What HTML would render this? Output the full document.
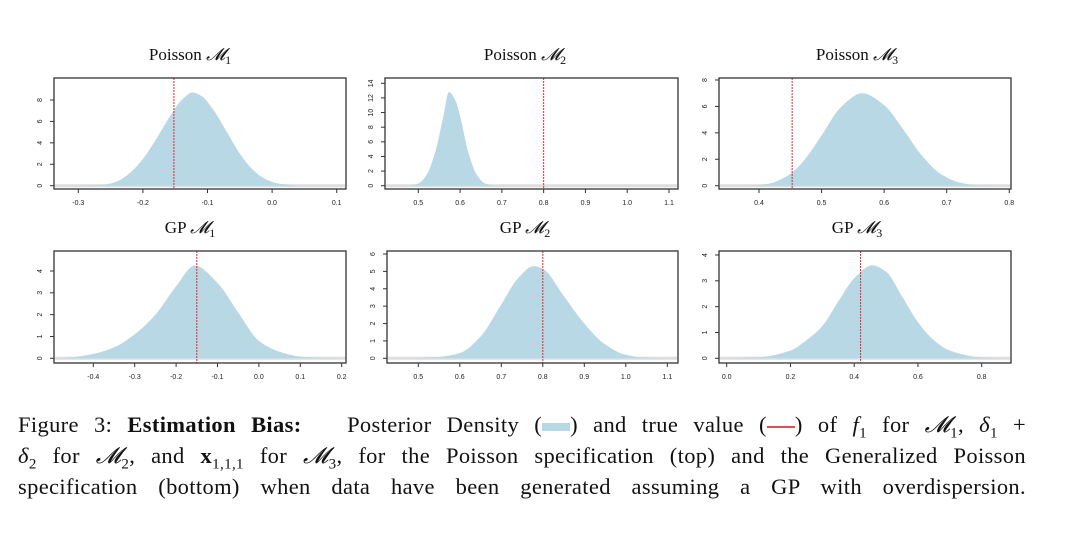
<!DOCTYPE html>
<html><head><meta charset="utf-8"><style>
html,body{margin:0;padding:0;background:#fff;width:1080px;height:536px;overflow:hidden}
#chart{position:absolute;left:0;top:0}
.cap{position:absolute;left:18px;width:1008px;font-family:"Liberation Serif","DejaVu Serif",serif;font-size:22.5px;letter-spacing:0.35px;color:#111;white-space:nowrap;line-height:26px}
.j{text-align:justify;text-align-last:justify;white-space:normal}
</style></head><body>
<svg id="chart" width="1080" height="400" xmlns="http://www.w3.org/2000/svg"></svg>
<div class="cap j" style="top:412px">Figure 3: <b>Estimation Bias:</b>&nbsp;&nbsp; Posterior Density (<span style="display:inline-block;width:28px;height:8px;background:#b7d8e4;vertical-align:middle"></span>) and true value (<span style="display:inline-block;width:28px;height:1.5px;background:#e05050;vertical-align:middle"></span>) of <i>f</i><sub style="font-size:15px">1</sub> for <i>𝓜</i><sub style="font-size:15px">1</sub>, <i>δ</i><sub style="font-size:15px">1</sub> +</div>
<div class="cap j" style="top:443px"><i>δ</i><sub style="font-size:15px">2</sub> for <i>𝓜</i><sub style="font-size:15px">2</sub>, and <b>x</b><sub style="font-size:15px">1,1,1</sub> for <i>𝓜</i><sub style="font-size:15px">3</sub>, for the Poisson specification (top) and the Generalized Poisson</div>
<div class="cap j" style="top:474px">specification (bottom) when data have been generated assuming a GP with overdispersion.</div>
<script>
// ---- data ----
const titles = ["Poisson", "Poisson", "Poisson", "GP", "GP", "GP"];
const modelIdx = [1, 2, 3, 1, 2, 3];
const trueValues = [-0.152, 0.80, 0.453, -0.150, 0.80, 0.42];
const densX1 = [-0.30,-0.26,-0.24,-0.22,-0.20,-0.18,-0.16,-0.14,-0.123,-0.11,-0.09,-0.07,-0.05,-0.03,-0.01,0.01,0.04];
const densY1 = [0,0.1,0.4,1.2,2.5,4.3,6.3,8.0,8.7,8.4,7.0,5.0,3.0,1.5,0.6,0.2,0];
const densX2 = [0.48,0.50,0.52,0.54,0.56,0.573,0.59,0.60,0.62,0.64,0.66,0.68];
const densY2 = [0,0.3,1.5,4.5,9.5,12.8,11.5,9.5,4.5,1.5,0.3,0];
const densX3 = [0.38,0.40,0.42,0.44,0.453,0.47,0.50,0.53,0.565,0.60,0.63,0.66,0.69,0.72,0.75,0.78];
const densY3 = [0,0.05,0.2,0.6,1.0,1.8,3.8,5.9,7.0,6.1,4.3,2.3,0.9,0.25,0.03,0];
const densX4 = [-0.48,-0.45,-0.40,-0.35,-0.30,-0.25,-0.20,-0.155,-0.10,-0.05,0.0,0.05,0.10,0.15,0.20];
const densY4 = [0,0.05,0.2,0.5,1.1,2.0,3.3,4.25,3.45,2.1,0.8,0.3,0.08,0.02,0];
const densX5 = [0.50,0.55,0.60,0.65,0.70,0.74,0.778,0.80,0.85,0.90,0.95,1.00,1.05,1.10];
const densY5 = [0.01,0.08,0.3,1.25,3.1,4.6,5.3,5.15,3.6,2.0,0.8,0.2,0.03,0];
const densX6 = [0.0,0.1,0.2,0.25,0.3,0.35,0.40,0.457,0.5,0.55,0.6,0.65,0.7,0.8,0.85];
const densY6 = [0,0.04,0.3,0.7,1.25,2.2,3.1,3.6,3.35,2.4,1.4,0.7,0.3,0.03,0];
const xTicks1 = [-0.3,-0.2,-0.1,0.0,0.1];
const xTicks2 = [0.5,0.6,0.7,0.8,0.9,1.0,1.1];
const xTicks3 = [0.4,0.5,0.6,0.7,0.8];
const xTicks4 = [-0.4,-0.3,-0.2,-0.1,0.0,0.1,0.2];
const xTicks5 = [0.5,0.6,0.7,0.8,0.9,1.0,1.1];
const xTicks6 = [0.0,0.2,0.4,0.6,0.8];
const yTicks1 = [0,2,4,6,8];
const yTicks2 = [0,2,4,6,8,10,12,14];
const yTicks3 = [0,2,4,6,8];
const yTicks4 = [0,1,2,3,4];
const yTicks5 = [0,1,2,3,4,5,6];
const yTicks6 = [0,1,2,3,4];

// ---- layout (pixel geometry) ----
const panels = [
 {dx:densX1,dy:densY1,xt:xTicks1,yt:yTicks1,box:[54,346,78,189],xm:[-0.3,78.3,0.1,336.7],ym:[0,185.7,8,100],tx:190,ty:60},
 {dx:densX2,dy:densY2,xt:xTicks2,yt:yTicks2,box:[385,678,78,189],xm:[0.5,418.3,1.1,669],ym:[0,185.7,14,83.3],tx:525,ty:60},
 {dx:densX3,dy:densY3,xt:xTicks3,yt:yTicks3,box:[719,1011,78,189],xm:[0.4,759,0.7,946.7],ym:[0,185.7,8,80],tx:857,ty:60},
 {dx:densX4,dy:densY4,xt:xTicks4,yt:yTicks4,box:[54,346,251,363],xm:[-0.4,93.3,0.2,341.7],ym:[0,358.3,4,271],tx:190,ty:233},
 {dx:densX5,dy:densY5,xt:xTicks5,yt:yTicks5,box:[387,678,251,363],xm:[0.5,418.3,1.1,667.3],ym:[0,358.3,6,254],tx:525,ty:233},
 {dx:densX6,dy:densY6,xt:xTicks6,yt:yTicks6,box:[719,1011,251,363],xm:[0.0,726.7,0.8,981.7],ym:[0,358.3,4,255],tx:857,ty:233}
];
const NS="http://www.w3.org/2000/svg";
const svg=document.getElementById('chart');
function mk(tag,attrs,parent){const e=document.createElementNS(NS,tag);for(const k in attrs)e.setAttribute(k,attrs[k]);(parent||svg).appendChild(e);return e;}
function fmt(v){const s=v.toFixed(1);return s==="-0.0"?"0.0":s;}
// Fritsch-Carlson monotone cubic interpolation
function monotone(xs,ys){
  const n=xs.length,dl=[],m=new Array(n);
  for(let i=0;i<n-1;i++)dl.push((ys[i+1]-ys[i])/(xs[i+1]-xs[i]));
  m[0]=dl[0];m[n-1]=dl[n-2];
  for(let i=1;i<n-1;i++){
    if(dl[i-1]*dl[i]<=0)m[i]=0;
    else{const h0=xs[i]-xs[i-1],h1=xs[i+1]-xs[i];const w1=2*h1+h0,w2=h1+2*h0;m[i]=(w1+w2)/(w1/dl[i-1]+w2/dl[i]);}
  }
  return x=>{
    let i=0;while(i<n-2&&x>xs[i+1])i++;
    const h=xs[i+1]-xs[i],t=(x-xs[i])/h,t2=t*t,t3=t2*t;
    return (2*t3-3*t2+1)*ys[i]+(t3-2*t2+t)*h*m[i]+(-2*t3+3*t2)*ys[i+1]+(t3-t2)*h*m[i+1];
  };
}
panels.forEach((p,i)=>{
  const g=mk('g',{});
  
  
  const sx=v=>p.xm[1]+(v-p.xm[0])*(p.xm[3]-p.xm[1])/(p.xm[2]-p.xm[0]);
  const sy=v=>p.ym[1]+(v-p.ym[0])*(p.ym[3]-p.ym[1])/(p.ym[2]-p.ym[0]);
  const [x0,x1,y0,y1]=p.box;
  const t=mk('text',{x:p.tx,y:p.ty,'text-anchor':'middle','font-family':'Liberation Serif, DejaVu Serif, serif','font-size':'17',fill:'#111'},g);
  
  
  t.innerHTML=titles[i]+' <tspan font-style="italic">𝓜</tspan><tspan font-size="12" dy="4">'+modelIdx[i]+'</tspan>';
  const bl=mk('line',{x1:x0+1,x2:x1-1,y1:sy(0),y2:sy(0),stroke:'#dedede','stroke-width':3},g);
  
  
  const f=monotone(p.dx,p.dy);
  const xa0=p.dx[0],xa1=p.dx[p.dx.length-1],N=200;
  let d='M'+sx(xa0).toFixed(2)+','+sy(0).toFixed(2);
  for(let k=0;k<=N;k++){const x=xa0+(xa1-xa0)*k/N;d+=' L'+sx(x).toFixed(2)+','+sy(Math.max(0,f(x))).toFixed(2);}
  d+=' L'+sx(xa1).toFixed(2)+','+sy(0).toFixed(2)+' Z';
  const area=mk('path',{d:d,fill:'#b7d8e4'},g);
  
  
  const rl=mk('line',{x1:sx(trueValues[i]),x2:sx(trueValues[i]),y1:y0,y2:y1,stroke:'#e8262a','stroke-width':1,'stroke-dasharray':'2,1'},g);
  
  
  const bx=mk('rect',{x:x0,y:y0,width:x1-x0,height:y1-y0,fill:'none',stroke:'#333','stroke-width':1.3},g);
  
  
  const xa=mk('g',{},g);
  
  
  p.xt.forEach(v=>{
    const X=sx(v);
    mk('line',{x1:X,x2:X,y1:y1,y2:y1+4,stroke:'#333','stroke-width':1},xa);
    const lb=mk('text',{x:X,y:y1+16,'text-anchor':'middle','font-family':'Liberation Sans, sans-serif','font-size':'7',fill:'#222'},xa);
    
    
    lb.textContent=fmt(v);
  });
  const ya=mk('g',{},g);
  
  
  p.yt.forEach(v=>{
    const Y=sy(v);
    mk('line',{x1:x0-4,x2:x0,y1:Y,y2:Y,stroke:'#333','stroke-width':1},ya);
    const lx=x0-12;
    const lb=mk('text',{x:lx,y:Y,'text-anchor':'middle','font-family':'Liberation Sans, sans-serif','font-size':'7',fill:'#222',transform:'rotate(-90 '+lx+' '+Y+')'},ya);
    
    
    lb.textContent=String(v);
  });
});
</script>
</body></html>
